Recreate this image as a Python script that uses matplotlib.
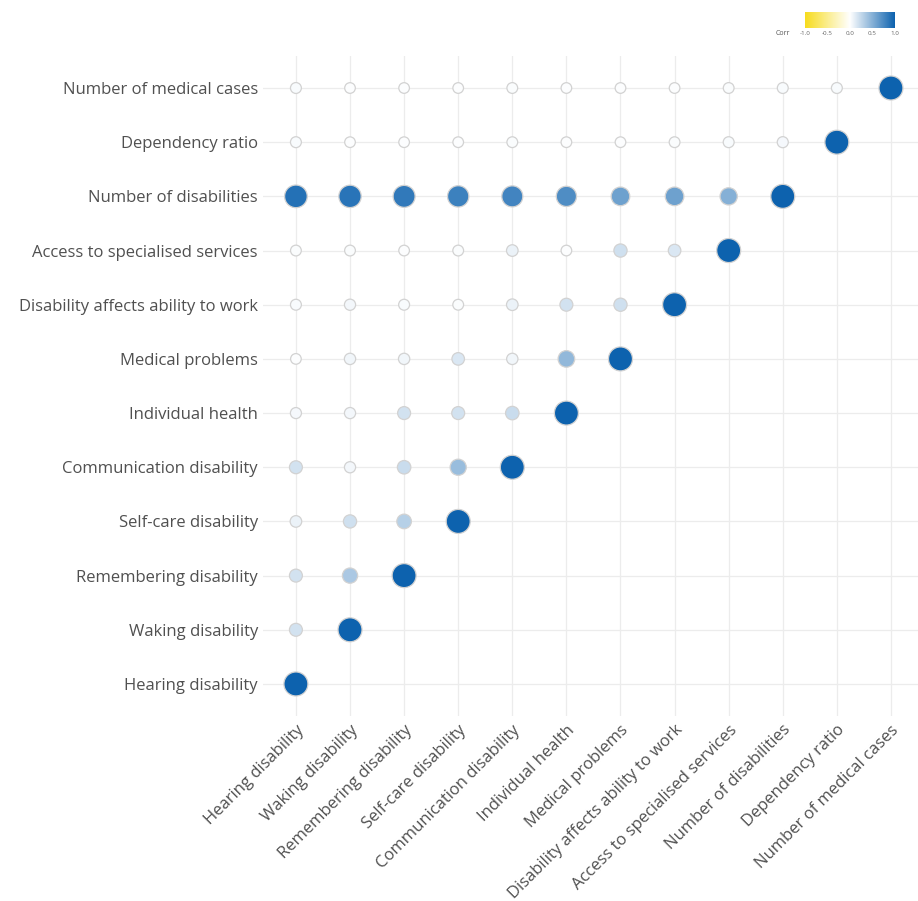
import matplotlib
matplotlib.use('Agg')
import matplotlib.pyplot as plt
import numpy as np
from matplotlib.colors import LinearSegmentedColormap

plt.rcParams['font.family'] = ['Open Sans', 'DejaVu Sans']

labels = ['Hearing disability', 'Waking disability', 'Remembering disability',
          'Self-care disability', 'Communication disability', 'Individual health',
          'Medical problems', 'Disability affects ability to work',
          'Access to specialised services', 'Number of disabilities',
          'Dependency ratio', 'Number of medical cases']

# lower triangle rows (row i has i+1 values, columns 0..i)
corr_rows = [
    [1.0],
    [0.18, 1.0],
    [0.18, 0.35, 1.0],
    [0.08, 0.20, 0.30, 1.0],
    [0.18, 0.05, 0.22, 0.42, 1.0],
    [0.04, 0.05, 0.18, 0.18, 0.22, 1.0],
    [0.01, 0.06, 0.06, 0.15, 0.06, 0.45, 1.0],
    [0.03, 0.05, 0.03, 0.02, 0.08, 0.18, 0.20, 1.0],
    [0.02, 0.02, 0.01, 0.02, 0.08, 0.01, 0.20, 0.15, 1.0],
    [0.90, 0.88, 0.85, 0.80, 0.78, 0.72, 0.60, 0.60, 0.50, 1.0],
    [0.03, 0.01, 0.01, 0.01, 0.02, 0.01, 0.01, 0.02, 0.03, 0.04, 1.0],
    [0.03, 0.01, 0.01, 0.01, 0.02, 0.01, 0.01, 0.01, 0.02, 0.03, 0.03, 1.0],
]

cmap = LinearSegmentedColormap.from_list('corr', ['#F7DC1E', '#FFFFFF', '#0D62AE'])

xs, ys, vals = [], [], []
for i, row in enumerate(corr_rows):
    for j, v in enumerate(row):
        xs.append(j + 1)
        ys.append(i + 1)
        vals.append(v)
xs = np.array(xs)
ys = np.array(ys)
vals = np.array(vals)

diam = 10.5 + 13.5 * np.abs(vals)          # px
sizes = (diam * 0.72) ** 2

fig = plt.figure(figsize=(9.18, 9.01), dpi=100)
ax = fig.add_axes([0.287, 0.2048, 0.713, 0.7336])
n = len(labels)
for k in range(1, n + 1):
    ax.axvline(k, color='#ececec', lw=0.9, zorder=0)
    ax.axhline(k, color='#ececec', lw=0.9, zorder=0)

ax.scatter(xs, ys, s=sizes, c=vals, cmap=cmap, vmin=-1, vmax=1,
           edgecolors='#d2d2d2', linewidths=0.9, zorder=3)

ax.set_xlim(0.4, 12.5)
ax.set_ylim(0.4, 12.6)
ax.set_xticks(range(1, n + 1))
ax.set_yticks(range(1, n + 1))
ax.set_yticklabels(labels, fontsize=12, color='#505050')
ax.set_xticklabels(labels, fontsize=12, color='#505050', rotation=45,
                   ha='right', va='top', rotation_mode='anchor')
ax.tick_params(length=0, pad=4)
for s in ax.spines.values():
    s.set_visible(False)

# colour legend
cax = fig.add_axes([0.877, 0.9685, 0.098, 0.0178])
grad = np.linspace(-1, 1, 256).reshape(1, -1)
cax.imshow(grad, aspect='auto', cmap=cmap, extent=[-1, 1, 0, 1])
cax.set_yticks([])
cax.set_xticks([-1, -0.5, 0, 0.5, 1])
cax.set_xticklabels(['-1.0', '-0.5', '0.0', '0.5', '1.0'], fontsize=4.5, color='#666666')
cax.tick_params(length=0, pad=2)
for s in cax.spines.values():
    s.set_visible(False)
fig.text(0.845, 0.963, 'Corr', fontsize=5, color='#555555', va='center')

fig.savefig('out.png', dpi=100)
